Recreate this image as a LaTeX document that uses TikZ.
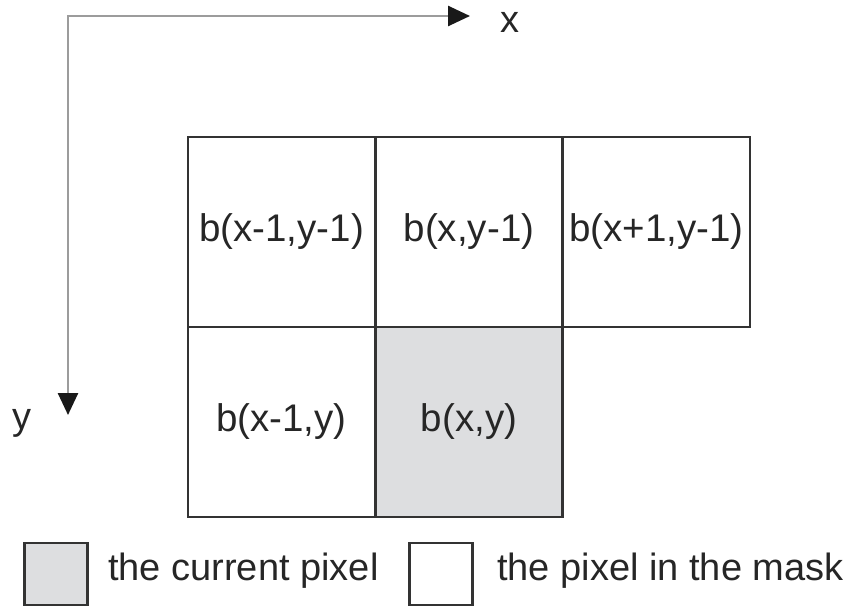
\documentclass[tikz,border=0pt]{standalone}
\usepackage{fontspec}
\setmainfont{Liberation Sans}
\usetikzlibrary{arrows.meta}
\definecolor{cellgray}{HTML}{DDDEE0}
\definecolor{axisgray}{HTML}{9C9C9C}
\definecolor{gridline}{HTML}{333333}
\tikzset{axtip/.tip={Triangle[length=22pt,width=20pt,color=black!90]}}
\begin{document}
\begin{tikzpicture}[x=1pt,y=-1pt,
  cell/.style={draw=gridline,line width=2.6pt,minimum width=187pt,minimum height=190pt,inner sep=0pt,font=\fontsize{38.5}{42}\selectfont,text=black!85},
  legbox/.style={draw=gridline,line width=2.6pt,minimum width=63pt,minimum height=62pt,inner sep=0pt},
  legtext/.style={anchor=west,inner sep=0pt,font=\fontsize{38}{42}\selectfont,text=black!85},
  axis/.style={draw=axisgray,line width=2.6pt},
  lab/.style={anchor=base,font=\fontsize{38}{42}\selectfont,text=black!85,inner sep=0pt}]
\useasboundingbox (0,0) rectangle (845,608);
% axes
\coordinate (o) at (68,16);
\coordinate (xe) at (470,16);
\coordinate (ye) at (68,415);
\draw[axis,axtip-axtip] (xe) -- (o) -- (ye);
\node[lab] (xl) at (510,32) {x};
\node[lab] (yl) at (22,429) {y};
% grid
\node[cell] (a) at (281.5,232) {b(x-1,y-1)};
\node[cell] (b) at (469,232) {b(x,y-1)};
\node[cell] (c) at (656.5,232) {b(x+1,y-1)};
\node[cell] (d) at (281.5,422) {b(x-1,y)};
\node[cell,fill=cellgray] (e) at (469,422) {b(x,y)};
% legend
\node[legbox,fill=cellgray] (l1) at (56,574) {};
\node[legtext] (t1) at (108,571) {the current pixel};
\node[legbox,fill=white] (l2) at (441,574) {};
\node[legtext] (t2) at (497,571) {the pixel in the mask};
\end{tikzpicture}
\end{document}
